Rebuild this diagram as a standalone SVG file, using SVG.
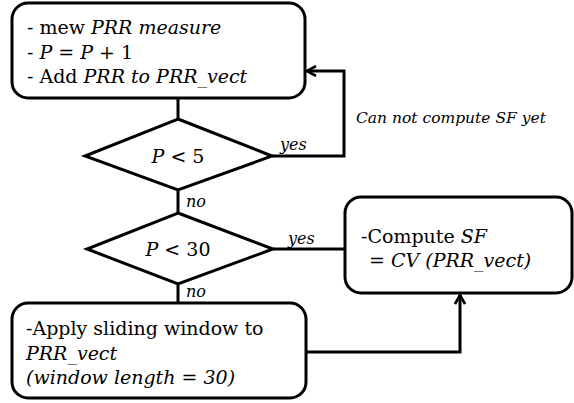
<svg xmlns="http://www.w3.org/2000/svg" width="574" height="403" viewBox="0 0 574 403">
  <defs>
    <marker id="arrow" viewBox="0 0 12 12" refX="10" refY="6" markerWidth="12" markerHeight="12" markerUnits="userSpaceOnUse" orient="auto">
      <path d="M1,1 L10,6 L1,11" fill="none" stroke="#000" stroke-width="2.6"/>
    </marker>
  </defs>
  <style>
    .shape { fill: #fff; stroke: #000; stroke-width: 3; }
    .wire { fill: none; stroke: #000; stroke-width: 3; }
    text { font-family: "DejaVu Serif", "Liberation Serif", serif; font-size: 19px; fill: #000; }
    .it { font-style: italic; }
    .small { font-size: 15.5px; }
    .lbl { font-size: 16px; }
  </style>
  <rect width="574" height="403" fill="#fff"/>

  <g id="connectors">
    <line class="wire" x1="178" y1="98" x2="178" y2="119"/>
    <line class="wire" x1="178" y1="190" x2="178" y2="213"/>
    <line class="wire" x1="178" y1="284" x2="178" y2="303"/>
    <polyline class="wire" points="272,156 344,156 344,71 307,71" marker-end="url(#arrow)"/>
    <line class="wire" x1="273" y1="249" x2="345" y2="249"/>
    <polyline class="wire" points="306,352 460,352 460,295" marker-end="url(#arrow)"/>
    <text class="it lbl" x="280" y="150">yes</text>
    <text class="it lbl" x="288" y="244">yes</text>
    <text class="it lbl" x="186" y="207">no</text>
    <text class="it lbl" x="186" y="297">no</text>
    <text class="it small" x="356" y="123">Can not compute SF yet</text>
  </g>

  <g id="update">
    <rect class="shape" x="12" y="3" width="293" height="95" rx="16"/>
    <text x="27" y="34">- mew <tspan class="it">PRR measure</tspan></text>
    <text x="27" y="59">- <tspan class="it">P</tspan> =  <tspan class="it">P</tspan> + 1</text>
    <text x="27" y="83">- Add <tspan class="it">PRR to PRR_vect</tspan></text>
  </g>

  <g id="check5">
    <polygon class="shape" points="178,119 272,156 178,190 85,156"/>
    <text x="178" y="163" text-anchor="middle"><tspan class="it">P</tspan> &lt; 5</text>
  </g>

  <g id="check30">
    <polygon class="shape" points="178,213 273,249 178,284 87,249"/>
    <text x="178" y="256" text-anchor="middle"><tspan class="it">P</tspan> &lt; 30</text>
  </g>

  <g id="compute">
    <rect class="shape" x="345" y="197" width="227" height="96" rx="16"/>
    <text x="361" y="243">-Compute <tspan class="it">SF</tspan></text>
    <text x="369" y="267" class="it">= CV (PRR_vect)</text>
  </g>

  <g id="window">
    <rect class="shape" x="12" y="303" width="294" height="95" rx="16"/>
    <text x="26" y="335">-Apply sliding window to</text>
    <text x="26" y="360" class="it">PRR_vect</text>
    <text x="26" y="384" class="it">(window length = 30)</text>
  </g>
</svg>
